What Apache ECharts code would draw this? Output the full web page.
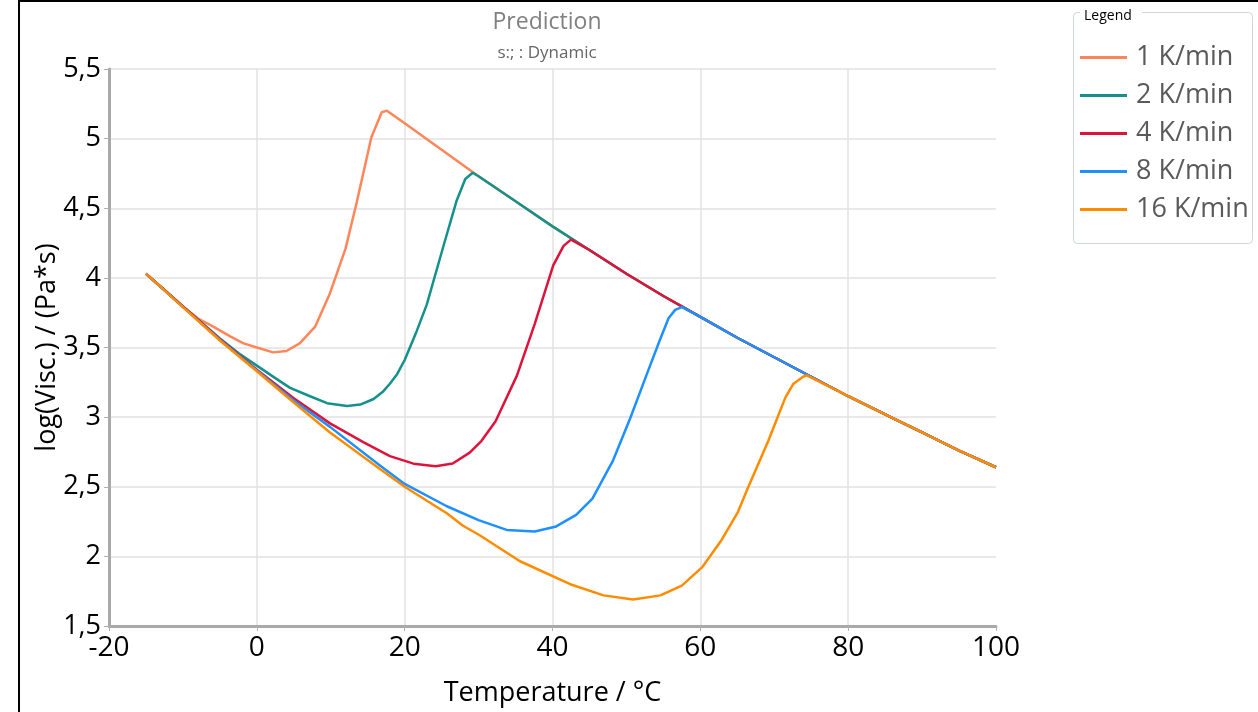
<!DOCTYPE html>
<html>
<head>
<meta charset="utf-8">
<script src="https://cdn.jsdelivr.net/npm/echarts@6/dist/echarts.min.js"></script>
<style>
html,body{margin:0;padding:0;background:#fff;}
#chart{width:1258px;height:712px;}
</style>
</head>
<body>
<div id="chart"></div>
<script>
// ---- data ----
const seriesNames = ['1 K/min', '2 K/min', '4 K/min', '8 K/min', '16 K/min'];
const xTicks = [-20, 0, 20, 40, 60, 80, 100];
const yTicks = [1.5, 2, 2.5, 3, 3.5, 4, 4.5, 5, 5.5];

const rate1 = [[-15,4.03],[-12,3.89],[-10,3.795],[-8,3.71],[-5.9,3.65],[-3.6,3.58],[-1.8,3.53],[0,3.50],[2.2,3.465],[4.0,3.475],[5.8,3.53],[7.9,3.65],[9.9,3.89],[12.0,4.21],[13.5,4.54],[15.5,5.01],[16.9,5.19],[17.6,5.20],[20,5.11],[25,4.92],[30,4.73],[35,4.55],[40,4.37],[45,4.20],[50,4.03],[55,3.87],[60,3.72],[65,3.57],[70,3.43],[75,3.29],[80,3.15],[85,3.02],[90,2.89],[95,2.76],[100,2.64]];
const rate2 = [[-15,4.03],[-12,3.89],[-10,3.795],[-7.5,3.68],[-5,3.565],[-2.5,3.46],[0,3.37],[2.5,3.28],[4.5,3.21],[7.2,3.15],[9.5,3.10],[12.2,3.08],[14,3.09],[15.8,3.13],[17,3.18],[18,3.24],[19,3.31],[20,3.41],[21.5,3.60],[23,3.81],[25.2,4.22],[27,4.55],[28.2,4.71],[29.2,4.755],[30,4.73],[35,4.55],[40,4.37],[45,4.20],[50,4.03],[55,3.87],[60,3.72],[65,3.57],[70,3.43],[75,3.29],[80,3.15],[85,3.02],[90,2.89],[95,2.76],[100,2.64]];
const rate4 = [[-15,4.03],[-10,3.795],[-5,3.56],[0,3.34],[5,3.135],[9.9,2.955],[14.4,2.82],[18,2.72],[21.2,2.666],[24.2,2.648],[26.5,2.667],[28.8,2.745],[30.4,2.83],[32.3,2.97],[35.2,3.30],[37.6,3.67],[40.1,4.09],[41.5,4.23],[42.5,4.275],[45,4.20],[50,4.03],[55,3.87],[60,3.72],[65,3.57],[70,3.43],[75,3.29],[80,3.15],[85,3.02],[90,2.89],[95,2.76],[100,2.64]];
const rate8 = [[-15,4.03],[-10,3.79],[-5,3.555],[0,3.335],[5,3.12],[9.9,2.93],[16.7,2.65],[20,2.52],[25.7,2.36],[30,2.26],[33.8,2.19],[37.6,2.178],[40.5,2.215],[43.2,2.298],[45.4,2.415],[48.2,2.69],[50.5,2.99],[52.7,3.30],[54.5,3.55],[55.7,3.71],[56.6,3.77],[57.5,3.79],[60,3.72],[65,3.57],[70,3.43],[75,3.29],[80,3.15],[85,3.02],[90,2.89],[95,2.76],[100,2.64]];
const rate16 = [[-15,4.03],[-10,3.79],[-5,3.55],[0,3.33],[5,3.105],[9.9,2.89],[16.7,2.625],[20,2.50],[25.7,2.31],[27.9,2.22],[30.2,2.15],[35.6,1.965],[42.4,1.80],[46.9,1.72],[50.9,1.69],[54.6,1.72],[57.5,1.79],[60.3,1.925],[62.9,2.12],[65.1,2.32],[66.3,2.475],[69.2,2.83],[71.5,3.14],[72.6,3.24],[73.9,3.29],[74.4,3.30],[80,3.15],[85,3.02],[90,2.89],[95,2.76],[100,2.64]];

const seriesData = [rate1, rate2, rate4, rate8, rate16];
const colors = ['#ff8658', '#14918a', '#dc143c', '#1e90ff', '#ff8c00'];

const axisFont = "'Open Sans',sans-serif";

const chart = echarts.init(document.getElementById('chart'), null, {renderer: 'canvas'});
const option = {
  animation: false,
  backgroundColor: '#ffffff',
  grid: {left: 109, right: 262, top: 69, bottom: 85, containLabel: false},
  xAxis: {
    type: 'value', min: xTicks[0], max: xTicks[xTicks.length - 1], interval: 20,
    name: 'Temperature / °C', nameLocation: 'middle', nameGap: 54, nameMoveOverlap: false,
    nameTextStyle: {fontFamily: axisFont, fontSize: 27, color: '#000'},
    axisLine: {show: true, onZero: false, lineStyle: {color: '#a9a9a9', width: 3}},
    axisTick: {show: true, length: 5, lineStyle: {color: '#b0b0b0', width: 1}},
    axisLabel: {fontFamily: axisFont, fontSize: 28, color: '#000', margin: 8},
    splitLine: {show: true, showMaxLine: false, lineStyle: {color: '#e2e2e2', width: 1.5}}
  },
  yAxis: {
    type: 'value', min: yTicks[0], max: yTicks[yTicks.length - 1], interval: 0.5,
    name: 'log(Visc.) / (Pa*s)', nameLocation: 'middle', nameGap: 48, nameRotate: 90, nameMoveOverlap: false,
    nameTextStyle: {fontFamily: axisFont, fontSize: 27, color: '#000'},
    axisLine: {show: true, onZero: false, lineStyle: {color: '#a9a9a9', width: 3}},
    axisTick: {show: true, length: 5, lineStyle: {color: '#b0b0b0', width: 1}},
    axisLabel: {fontFamily: axisFont, fontSize: 27, color: '#000', margin: 8,
      formatter: v => String(v).replace('.', ',')},
    splitLine: {show: true, lineStyle: {color: '#e2e2e2', width: 1.5}}
  },
  legend: {
    orient: 'vertical', left: 1080, top: 44, padding: 0, itemWidth: 47, itemHeight: 3, itemGap: 11,
    icon: 'rect',
    textStyle: {fontFamily: "'Open Sans',sans-serif", fontSize: 27, color: '#5a5a5a', padding: [0,0,0,4]},
    data: seriesNames
  },
  series: seriesNames.map((n, i) => ({
    name: n, type: 'line', data: seriesData[i], showSymbol: false, smooth: false,
    color: colors[i], lineStyle: {width: 2.5, color: colors[i]}, z: 2 + i
  })),
  graphic: [
    {type: 'line', shape: {x1: 18, y1: 1, x2: 1258, y2: 1}, style: {stroke: '#000', lineWidth: 2}},
    {type: 'line', shape: {x1: 19, y1: 0, x2: 19, y2: 712}, style: {stroke: '#000', lineWidth: 2}},
    {type: 'rect', shape: {x: 1073.5, y: 12.5, width: 179, height: 231, r: 4}, style: {fill: 'none', stroke: '#cfd6dc', lineWidth: 1}},
    {type: 'rect', shape: {x: 1080, y: 6, width: 62, height: 18}, style: {fill: '#fff'}},
    {type: 'text', x: 1084, y: 16, style: {text: 'Legend', font: "14px 'Open Sans',sans-serif", fill: '#000', textVerticalAlign: 'middle'}},
    {type: 'text', x: 547, y: 22, style: {text: 'Prediction', font: "23px 'Open Sans',sans-serif", fill: '#808080', textAlign: 'center', textVerticalAlign: 'middle'}},
    {type: 'text', x: 547, y: 53, style: {text: 's:; : Dynamic', font: "17px 'Open Sans',sans-serif", fill: '#666', textAlign: 'center', textVerticalAlign: 'middle'}}
  ]
};
chart.setOption(option);
</script>
</body>
</html>
